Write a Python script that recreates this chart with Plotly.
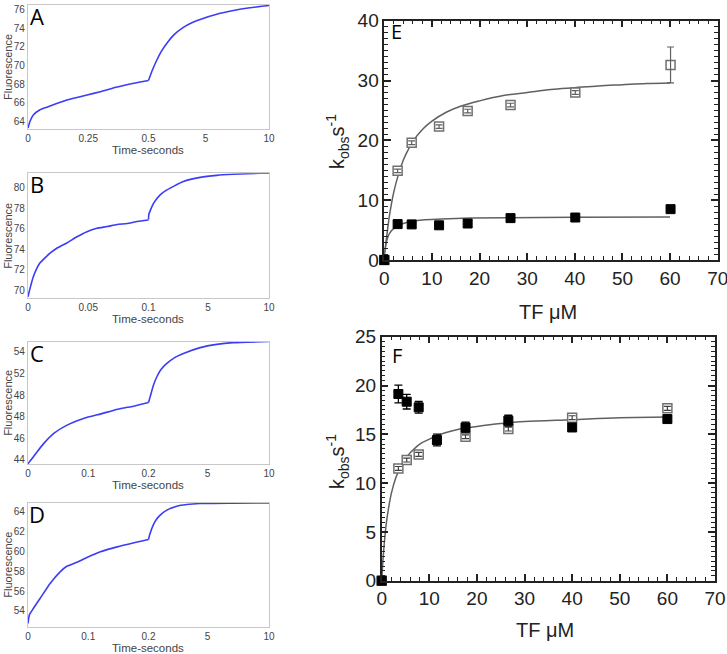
import plotly.graph_objects as go

# ---------------- data: stopped-flow traces (time in s, fluorescence) ----------------
A_t1 = [0, 0.008, 0.022, 0.05, 0.078, 0.105, 0.161, 0.245, 0.3, 0.37, 0.439, 0.5]
A_f1 = [63.3, 64.0, 64.7, 65.26, 65.54, 65.8, 66.3, 66.85, 67.2, 67.7, 68.1, 68.4]
A_t2 = [0.5, 0.8, 1.16, 1.5, 1.95, 2.5, 3.25, 4.0, 4.57, 5.88, 7.2, 8.5, 10]
A_f2 = [68.4, 69.5, 70.6, 71.5, 72.4, 73.3, 74.1, 74.65, 74.95, 75.5, 75.9, 76.2, 76.45]

B_t1 = [0, 0.0017, 0.0044, 0.0072, 0.01, 0.0128, 0.0183, 0.0239, 0.0322, 0.0406,
        0.0489, 0.0572, 0.0656, 0.0739, 0.0822, 0.0906, 0.1]
B_f1 = [69.35, 70.17, 71.3, 72.1, 72.67, 73.0, 73.6, 74.08, 74.6, 75.2,
        75.7, 76.03, 76.2, 76.4, 76.5, 76.7, 76.85]
B_t2 = [0.1, 0.13, 0.51, 1.06, 1.61, 2.97, 4.34, 5.71, 7.07, 9.26, 10]
B_f2 = [76.9, 77.4, 78.47, 79.3, 79.78, 80.6, 81.0, 81.2, 81.3, 81.4, 81.42]

C_t1 = [0, 0.0061, 0.0156, 0.0267, 0.0433, 0.0656, 0.0933, 0.121, 0.149, 0.177, 0.2]
C_f1 = [43.63, 44.06, 44.77, 45.54, 46.46, 47.23, 47.85, 48.25, 48.68, 48.99, 49.3]
C_t2 = [0.2, 0.34, 0.6, 0.88, 1.2, 1.69, 2.3, 3.04, 4.4, 5.75, 7.1, 10]
C_f2 = [49.3, 49.85, 50.9, 51.7, 52.35, 52.93, 53.45, 53.85, 54.4, 54.7, 54.86, 54.97]

D_t1 = [0, 0.0022, 0.0089, 0.02, 0.0367, 0.0533, 0.0644, 0.0811, 0.0978, 0.12, 0.148, 0.176, 0.2]
D_f1 = [52.73, 53.57, 54.24, 55.25, 56.77, 57.94, 58.5, 58.9, 59.39, 59.96, 60.46, 60.87, 61.2]
D_t2 = [0.2, 0.3, 0.6, 0.85, 1.15, 1.69, 2.5, 3.32, 4.4, 7.0, 10]
D_f2 = [61.2, 61.7, 62.7, 63.25, 63.67, 64.17, 64.57, 64.74, 64.84, 64.88, 64.9]

A_ticks = ["0", "0.25", "0.5", "5", "10"]
B_ticks = ["0", "0.05", "0.1", "5", "10"]
C_ticks = ["0", "0.1", "0.2", "5", "10"]
D_ticks = ["0", "0.1", "0.2", "5", "10"]
A_yticks = [64, 66, 68, 70, 72, 74, 76]
B_yticks = [70, 72, 74, 76, 78, 80]
C_yticks = [44, 46, 48, 50, 52, 54]
C_yticklabels = ["44", "46", "48", "48", "52", "54"]
D_yticks = [54, 56, 58, 60, 62, 64]

# ---------------- data: k_obs vs [TF] ----------------
E_x = [0, 2.8, 5.75, 11.5, 17.5, 26.5, 40.1, 60.1]
E_open = [0, 14.9, 19.6, 22.3, 24.9, 25.9, 28.0, 32.6]
E_open_err = [0, 0.3, 0.3, 0.3, 0.3, 0.3, 0.3, 3.0]
E_filled = [0, 6.0, 5.95, 5.8, 6.1, 7.0, 7.1, 8.5]
E_fit_x = [0, 0.5, 1, 1.5, 2, 3, 4, 5, 6, 8, 10, 13, 16, 20, 25, 30, 35, 40, 45, 50, 55, 60]
E_fit_open = [0.8, 3.9, 7.0, 9.4, 11.4, 14.4, 16.7, 18.4, 19.8, 21.8, 23.2, 24.7, 25.7,
              26.6, 27.5, 28.0, 28.5, 28.8, 29.1, 29.3, 29.5, 29.6]
E_fit2_x = [0, 0.25, 0.5, 1, 1.5, 2, 3, 4, 6, 8, 12, 18, 26, 40, 60]
E_fit_filled = [0.8, 2.2, 3.2, 4.3, 4.9, 5.3, 5.8, 6.1, 6.5, 6.7, 6.85, 7.0, 7.08, 7.15, 7.2]

F_x_filled = [0, 3.5, 5.25, 7.77, 11.6, 17.6, 26.6, 40.0, 60.0]
F_filled = [0, 19.13, 18.34, 17.76, 14.41, 15.7, 16.4, 15.7, 16.56]
F_filled_err = [0, 0.9, 0.75, 0.6, 0.6, 0.55, 0.55, 0.3, 0.3]
F_x_open = [0, 3.5, 5.25, 7.77, 17.6, 26.6, 40.0, 60.0]
F_open = [0, 11.5, 12.36, 12.94, 14.75, 15.54, 16.7, 17.66]
F_open_err = [0, 0.2, 0.2, 0.2, 0.2, 0.2, 0.2, 0.2]
F_fit_x = [0, 0.25, 0.5, 1, 1.5, 2, 3, 4, 5, 6, 8, 10, 13, 16, 20, 25, 30, 40, 50, 60]
F_fit = [0, 2.0, 3.6, 6.0, 7.6, 8.9, 10.6, 11.7, 12.5, 13.1, 14.0, 14.5, 15.1, 15.5,
         15.8, 16.1, 16.3, 16.5, 16.7, 16.77]

W, H = 727, 654
FONT = "Liberation Sans, Arial, sans-serif"


def px_x(x0, x1):
    return [x0 / W, x1 / W]


def px_y(y0, y1):
    return [1 - y1 / H, 1 - y0 / H]


def seg(ts, split, tmax=10.0):
    # broken time axis: first half linear 0..split, second half linear split..tmax
    out = []
    for t in ts:
        if t <= split:
            out.append(t / split * 0.5)
        else:
            out.append(0.5 + (t - split) / (tmax - split) * 0.5)
    return out


fig = go.Figure()
layout = dict(width=W, height=H, margin=dict(l=0, r=0, t=0, b=0, autoexpand=False),
              plot_bgcolor="white", paper_bgcolor="white", showlegend=False,
              font=dict(family=FONT))
annotations = []

left = [
    ("A", A_t1, A_f1, A_t2, A_f2, 0.5, A_ticks, [0.25], A_yticks, None, (63.2, 76.5), (5, 129)),
    ("B", B_t1, B_f1, B_t2, B_f2, 0.1, B_ticks, [0.05], B_yticks, None, (69.2, 81.4), (173.3, 298.3)),
    ("C", C_t1, C_f1, C_t2, C_f2, 0.2, C_ticks, [0.1], C_yticks, C_yticklabels, (43.6, 54.95), (341.7, 464)),
    ("D", D_t1, D_f1, D_t2, D_f2, 0.2, D_ticks, [0.1], D_yticks, None, (52.4, 64.92), (502.7, 626.7)),
]
XL0, XL1 = 28, 269
for i, (lab, t1, f1, t2, f2, split, xt, mid, yt, ytl, yr, (ytop, ybot)) in enumerate(left):
    n = i + 1
    xa = "x" if n == 1 else f"x{n}"
    ya = "y" if n == 1 else f"y{n}"
    for tt, ff in ((t1, f1), (t2, f2)):
        fig.add_trace(go.Scatter(x=seg(tt, split), y=ff, mode="lines", xaxis=xa, yaxis=ya,
                                 line=dict(color="#3c3cf5", width=1.6, shape="spline", smoothing=0.5)))
    tickvals = seg([0] + mid + [split, 5, 10], split)
    axstyle = dict(showline=True, mirror=True, linecolor="#c8c8c8", linewidth=1.2,
                   showgrid=False, zeroline=False, ticks="", automargin=False,
                   tickfont=dict(size=10, color="#444", family=FONT))
    layout["xaxis" if n == 1 else f"xaxis{n}"] = dict(
        domain=px_x(XL0, XL1), anchor=ya, range=[0, 1], tickmode="array",
        tickvals=tickvals, ticktext=xt, ticklabelstandoff=0, **axstyle)
    layout["yaxis" if n == 1 else f"yaxis{n}"] = dict(
        domain=px_y(ytop, ybot), anchor=xa, range=list(yr), tickmode="array",
        tickvals=yt, ticktext=ytl if ytl else [str(v) for v in yt], ticklabelstandoff=0, **axstyle)
    annotations.append(dict(text=lab, x=37 / W, y=1 - (ytop + 11) / H, xref="paper", yref="paper",
                            showarrow=False, font=dict(size=22, color="black", family="Open Sans, " + FONT),
                            xanchor="center", yanchor="middle"))
    annotations.append(dict(text="Fluorescence", x=8 / W, y=1 - (ytop + ybot) / 2 / H, xref="paper",
                            yref="paper", showarrow=False, textangle=-90,
                            font=dict(size=11, color="#444", family=FONT),
                            xanchor="center", yanchor="middle"))
    annotations.append(dict(text="Time-seconds", x=148 / W, y=1 - (ybot + 21) / H, xref="paper",
                            yref="paper", showarrow=False,
                            font=dict(size=11.5, color="#444", family=FONT),
                            xanchor="center", yanchor="middle"))

# ---------------- panel E ----------------
open_mk = dict(symbol="square", size=9, color="white", line=dict(color="#707070", width=1.5))
fill_mk = dict(symbol="square", size=9, color="black", line=dict(color="black", width=1))
hidden_mk = dict(size=1, opacity=0)
fig.add_trace(go.Scatter(x=E_fit_x, y=E_fit_open, mode="lines", xaxis="x5", yaxis="y5",
                         line=dict(color="#606060", width=1.5, shape="spline")))
fig.add_trace(go.Scatter(x=E_fit2_x, y=E_fit_filled, mode="lines", xaxis="x5", yaxis="y5",
                         line=dict(color="#606060", width=1.5, shape="spline")))
fig.add_trace(go.Scatter(x=E_x, y=E_open, mode="markers", xaxis="x5", yaxis="y5", marker=open_mk,
                         cliponaxis=False))
fig.add_trace(go.Scatter(x=E_x, y=E_open, mode="markers", xaxis="x5", yaxis="y5", marker=hidden_mk,
                         error_y=dict(type="data", array=E_open_err, color="#606060", thickness=1.2, width=3.5)))
fig.add_trace(go.Scatter(x=E_x, y=E_filled, mode="markers", xaxis="x5", yaxis="y5", marker=fill_mk,
                         cliponaxis=False))

# ---------------- panel F ----------------
fig.add_trace(go.Scatter(x=F_fit_x, y=F_fit, mode="lines", xaxis="x6", yaxis="y6",
                         line=dict(color="#606060", width=1.5, shape="spline")))
fig.add_trace(go.Scatter(x=F_x_open, y=F_open, mode="markers", xaxis="x6", yaxis="y6", marker=open_mk,
                         cliponaxis=False))
fig.add_trace(go.Scatter(x=F_x_open, y=F_open, mode="markers", xaxis="x6", yaxis="y6", marker=hidden_mk,
                         error_y=dict(type="data", array=F_open_err, color="#404040", thickness=1.2, width=3.5)))
fig.add_trace(go.Scatter(x=F_x_filled, y=F_filled, mode="markers", xaxis="x6", yaxis="y6", marker=fill_mk,
                         cliponaxis=False,
                         error_y=dict(type="data", array=F_filled_err, color="black", thickness=1.3, width=4)))

rstyle = dict(showline=True, mirror="ticks", linecolor="#222", linewidth=1.5, showgrid=False,
              zeroline=False, ticks="inside", ticklen=7, tickwidth=1.5, tickcolor="#222", automargin=False,
              ticklabeloverflow="allow", tickfont=dict(size=19, color="#222", family=FONT))
layout["xaxis5"] = dict(domain=px_x(384.3, 717.7), anchor="y5", range=[0, 70], dtick=10,
                        minor=dict(dtick=2, ticks="inside", ticklen=4, tickcolor="#222", tickwidth=1.2),
                        **rstyle)
layout["yaxis5"] = dict(domain=px_y(20.7, 260), anchor="x5", range=[0, 40], dtick=10,
                        minor=dict(dtick=1, ticks="inside", ticklen=4, tickcolor="#222", tickwidth=1.2),
                        **rstyle)
layout["xaxis6"] = dict(domain=px_x(381.7, 715), anchor="y6", range=[0, 70], dtick=10,
                        minor=dict(dtick=2, ticks="inside", ticklen=4, tickcolor="#222", tickwidth=1.2),
                        **rstyle)
layout["yaxis6"] = dict(domain=px_y(336.7, 580.7), anchor="x6", range=[0, 25], dtick=5,
                        minor=dict(dtick=0.5, ticks="inside", ticklen=4, tickcolor="#222", tickwidth=1.2),
                        **rstyle)

for lab, cx, cy in (("E", 396, 31), ("F", 397, 355)):
    annotations.append(dict(text=lab, x=cx / W, y=1 - cy / H, xref="paper", yref="paper",
                            showarrow=False, font=dict(size=20, color="black", family="Open Sans, " + FONT),
                            xanchor="center", yanchor="middle"))
for cx, cy in ((548, 311.7), (545, 630)):
    annotations.append(dict(text="TF \u03bcM", x=cx / W, y=1 - cy / H, xref="paper", yref="paper",
                            showarrow=False, font=dict(size=20, color="#222", family=FONT),
                            xanchor="center", yanchor="middle"))
for cy in (142, 462):
    annotations.append(dict(text="k<sub>obs</sub>s<sup>-1</sup>", x=337 / W, y=1 - cy / H, xref="paper",
                            yref="paper", showarrow=False, textangle=-90,
                            font=dict(size=20, color="#222", family=FONT),
                            xanchor="center", yanchor="middle"))

layout["annotations"] = annotations
fig.update_layout(**layout)
fig.write_html("out.html", config={"displayModeBar": False},
               post_script="document.body.style.margin='0';document.body.style.overflow='hidden';")
